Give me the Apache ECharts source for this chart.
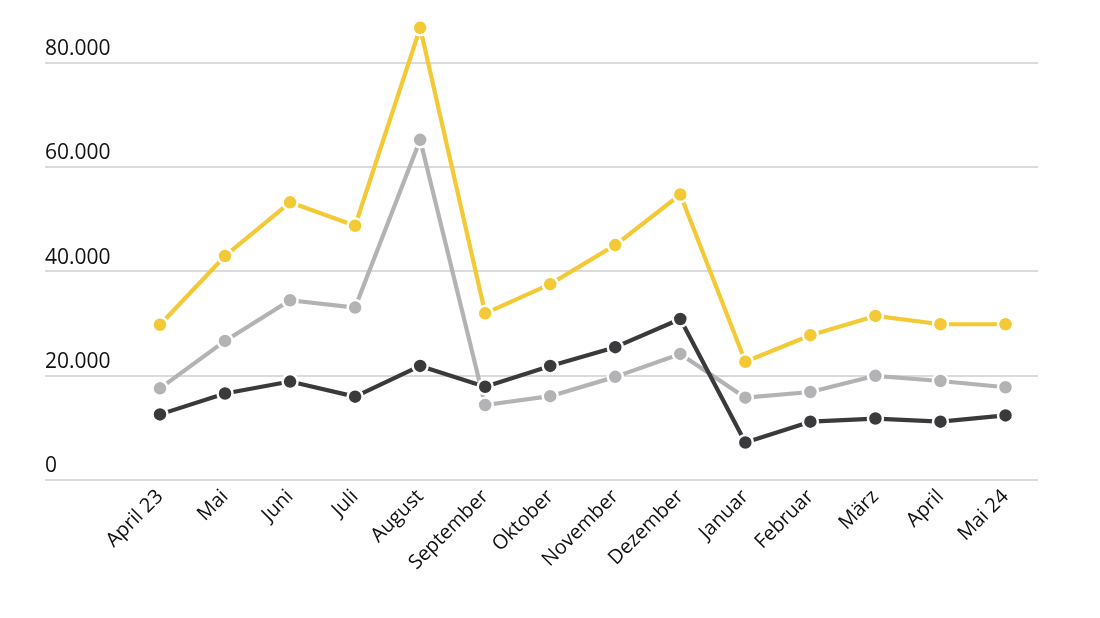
<!DOCTYPE html>
<html lang="de">
<head>
    <meta charset="UTF-8">
    <title>Monatswerte April 23 - Mai 24</title>
    <script src="https://cdn.jsdelivr.net/npm/echarts@6/dist/echarts.min.js"></script>
    <style>
        body, html {
            margin: 0;
            padding: 0;
            width: 100%;
            height: 100%;
            background-color: #ffffff;
        }
        #chart {
            width: 1100px;
            height: 618px;
        }
    </style>
</head>
<body>
    <div id="chart"></div>

    <script>
        // Monate
        var months = ['April 23', 'Mai', 'Juni', 'Juli', 'August', 'September', 'Oktober',
            'November', 'Dezember', 'Januar', 'Februar', 'März', 'April', 'Mai 24'];

        // Werte der drei Linien
        var yellowValues = [29700, 42900, 53200, 48700, 86700, 31900, 37500, 45000, 54700, 22600, 27700, 31400, 29800, 29800];
        var grayValues = [17500, 26600, 34400, 33000, 65200, 14300, 16000, 19700, 24100, 15700, 16800, 19900, 18900, 17700];
        var darkValues = [12500, 16500, 18800, 15900, 21800, 17800, 21800, 25400, 30800, 7100, 11100, 11700, 11100, 12300];

        var yTicks = [0, 20000, 40000, 60000, 80000];

        var chart = echarts.init(document.getElementById('chart'));

        function lineSeries(values, color) {
            return {
                type: 'line',
                xAxisIndex: 1,
                yAxisIndex: 1,
                data: values,
                clip: false,
                symbol: 'circle',
                symbolSize: 15,
                lineStyle: { color: color, width: 4.2 },
                itemStyle: { color: color, borderColor: '#ffffff', borderWidth: 2.5 },
                animation: false
            };
        }

        var option = {
            backgroundColor: '#ffffff',
            grid: [
                // Raster für die Hilfslinien
                { left: 45, right: 62, top: 62.7, bottom: 138.5 },
                // Raster für die Daten
                { left: 160, right: 94.5, top: 62.7, bottom: 138.5 }
            ],
            xAxis: [
                { type: 'value', gridIndex: 0, show: false, min: 0, max: 1 },
                {
                    type: 'category',
                    gridIndex: 1,
                    data: months,
                    boundaryGap: false,
                    axisLine: { show: false },
                    axisTick: { show: false },
                    splitLine: { show: false },
                    axisLabel: {
                        rotate: 45,
                        interval: 0,
                        margin: 14,
                        color: '#111111',
                        fontFamily: 'Open Sans',
                        fontWeight: 500,
                        fontSize: 20
                    }
                }
            ],
            yAxis: [
                {
                    type: 'value',
                    gridIndex: 0,
                    min: yTicks[0],
                    max: yTicks[yTicks.length - 1],
                    interval: 20000,
                    axisLine: { show: false },
                    axisTick: { show: false },
                    splitLine: { lineStyle: { color: '#cfcfcf', width: 1.5 } },
                    axisLabel: {
                        inside: true,
                        margin: 0,
                        align: 'left',
                        verticalAlign: 'bottom',
                        padding: [0, 0, 3, 0],
                        color: '#111111',
                        fontFamily: 'Open Sans',
                        fontWeight: 500,
                        fontSize: 21,
                        formatter: function (v) {
                            return v === 0 ? '0' : (v / 1000) + '.000';
                        }
                    }
                },
                {
                    type: 'value',
                    gridIndex: 1,
                    min: yTicks[0],
                    max: yTicks[yTicks.length - 1],
                    show: false,
                    splitLine: { show: false }
                }
            ],
            series: [
                lineSeries(grayValues, '#b3b2b5'),
                lineSeries(darkValues, '#3a393c'),
                lineSeries(yellowValues, '#f3c935')
            ]
        };

        chart.setOption(option);
    </script>
</body>
</html>
